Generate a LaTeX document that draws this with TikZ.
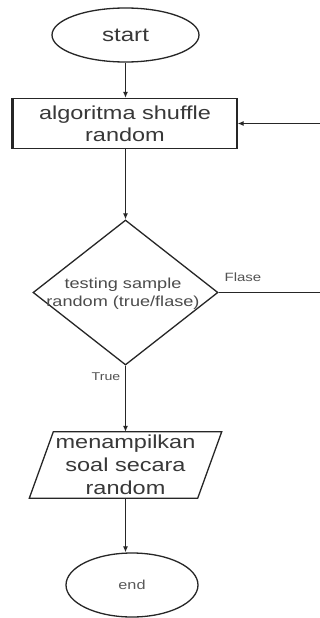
\documentclass[tikz,border=0pt]{standalone}
\usepackage{fontspec}
\usetikzlibrary{shapes.geometric,arrows.meta}
\newfontfamily\flowfont[FakeStretch=1.25]{Liberation Sans}

\tikzset{
  x=1pt, y=-1pt,
  outline/.style={draw=black!85, line width=1.3pt},
  flow/.style={draw=black!85, line width=1.1pt, -{Latex[length=6pt,width=5pt]}},
  bigtext/.style={text=black!78, font=\flowfont\fontsize{18.8}{22}\selectfont, align=center},
  midtext/.style={text=black!70, font=\flowfont\fontsize{14.5}{18}\selectfont, align=center},
  smalltext/.style={text=black!68, font=\flowfont\fontsize{12}{14}\selectfont},
  terminal/.style={outline, ellipse, inner sep=0pt},
}

\begin{document}
\begin{tikzpicture}
  \useasboundingbox (0,0) rectangle (320,618);
  \clip (0,0) rectangle (320,618);
  \fill[white] (0,0) rectangle (320,618);

  % start terminal
  \node[terminal, minimum width=147pt, minimum height=54pt, bigtext,
        font=\flowfont\fontsize{19.3}{22}\selectfont] (start) at (125.5,35) {start};

  % process box
  \node[outline, rectangle, minimum width=224pt, minimum height=50pt, inner sep=0pt,
        bigtext] (alg) at (125,123.5) {algoritma shuffle\\random};
  \draw[line width=2.6pt, black!85] (alg.north west) -- (alg.south west);

  % decision
  \node[outline, diamond, minimum width=185pt, minimum height=145pt, inner sep=0pt,
        shape aspect=1.28] (test) at (125.5,292.5) {};
  \node[midtext] (testtxt) at (123,294) {testing sample\\random (true/flase)};

  % output (parallelogram drawn around the node box)
  \node[minimum width=168pt, minimum height=66pt, inner sep=0pt, bigtext,
        font=\flowfont\fontsize{18.8}{23}\selectfont] (show) at (125.5,465)
        {menampilkan\\soal secara\\random};
  \draw[outline] ([xshift=12pt]show.north west) -- ([xshift=12pt]show.north east)
        -- ([xshift=-12pt]show.south east) -- ([xshift=-12pt]show.south west) -- cycle;

  % end terminal
  \node[terminal, minimum width=132pt, minimum height=64pt, text=black!65,
        font=\flowfont\fontsize{13}{15}\selectfont] (stop) at (132,585) {end};

  % connectors
  \coordinate (loopR) at (324,292.5);
  \draw[flow] (start.south) -- (start.south |- alg.north);
  \draw[flow] (start.south |- alg.south) -- (test.north);
  \draw[flow] (test.east) -- (loopR) |- (alg.east);
  \draw[flow] (test.south) -- (show.north);
  \draw[flow] (show.south) -- (show.south |- stop.north);

  % branch labels
  \node[smalltext] (lblF) at (243,277) {Flase};
  \node[smalltext, font=\flowfont\fontsize{11.3}{13}\selectfont] (lblT) at (106,377) {True};
\end{tikzpicture}
\end{document}
